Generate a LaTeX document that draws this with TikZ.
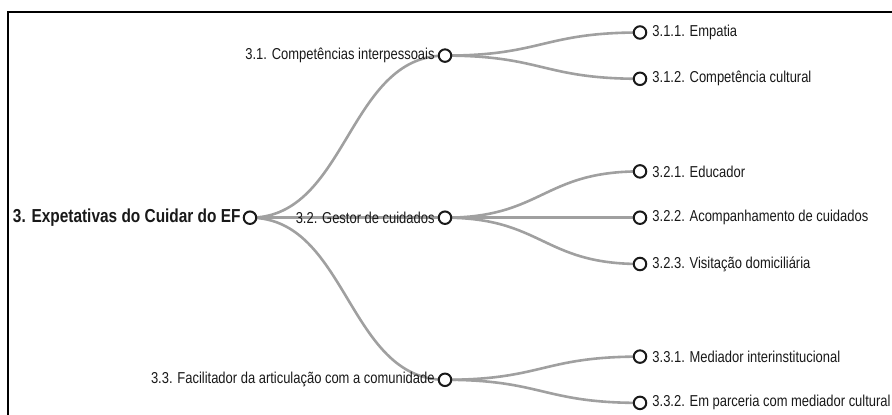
\documentclass[tikz,border=0pt]{standalone}
\usepackage{fontspec}
\setmainfont{Liberation Sans}[FakeStretch=0.82]
\usetikzlibrary{positioning}
\usetikzlibrary{backgrounds}
\definecolor{mgray}{RGB}{160, 160, 160}
\definecolor{mdark}{RGB}{25, 25, 25}
\tikzset{knot/.style = {draw=mdark, fill=white, circle, line width=2, inner sep=0, minimum size=12.5}}
\tikzset{lbl/.style = {inner sep=0, text=mdark, font=\fontsize{15.8}{18}\selectfont}}
\tikzset{link/.style = {draw=mgray, line width=2.6}}

\begin{document}
\begin{tikzpicture}[x=1pt, y=-1pt]
    \useasboundingbox (0, 0) rectangle (892, 415);
    \draw [black, line width=2] (8.3, 415) |- (892, 11.5);

    \node [knot] (n3) at (250, 217.7) {};
    \node [knot] (n31) at (445, 55.6) {};
    \node [knot] (n32) at (445, 217.7) {};
    \node [knot] (n33) at (445, 379.8) {};
    \node [knot] (n311) at (640, 32.5) {};
    \node [knot] (n312) at (640, 78.8) {};
    \node [knot] (n321) at (640, 171.4) {};
    \node [knot] (n322) at (640, 217.7) {};
    \node [knot] (n323) at (640, 264) {};
    \node [knot] (n331) at (640, 356.6) {};
    \node [knot] (n332) at (640, 402.9) {};

    \node [lbl, font=\fontsize{18.8}{21}\selectfont\bfseries, left=2 of n3] {3. Expetativas do Cuidar do EF};
    \node [lbl, left=3 of n31] {3.1. Competências interpessoais};
    \node [lbl, left=3 of n32] {3.2. Gestor de cuidados};
    \node [lbl, left=3 of n33] {3.3. Facilitador da articulação com a comunidade};
    \node [lbl, right=5 of n311] {3.1.1. Empatia};
    \node [lbl, right=5 of n312] {3.1.2. Competência cultural};
    \node [lbl, right=5 of n321] {3.2.1. Educador};
    \node [lbl, right=5 of n322] {3.2.2. Acompanhamento de cuidados};
    \node [lbl, right=5 of n323] {3.2.3. Visitação domiciliária};
    \node [lbl, right=5 of n331] {3.3.1. Mediador interinstitucional};
    \node [lbl, right=5 of n332] {3.3.2. Em parceria com mediador cultural};

    \begin{scope}[on background layer]
      \draw [link] (n3.center) .. controls +(97.5, 0) and +(-97.5, 0) .. (n31.center);
      \draw [link] (n3.center) .. controls +(97.5, 0) and +(-97.5, 0) .. (n32.center);
      \draw [link] (n3.center) .. controls +(97.5, 0) and +(-97.5, 0) .. (n33.center);
      \draw [link] (n31.center) .. controls +(97.5, 0) and +(-97.5, 0) .. (n311.center);
      \draw [link] (n31.center) .. controls +(97.5, 0) and +(-97.5, 0) .. (n312.center);
      \draw [link] (n32.center) .. controls +(97.5, 0) and +(-97.5, 0) .. (n321.center);
      \draw [link] (n32.center) .. controls +(97.5, 0) and +(-97.5, 0) .. (n322.center);
      \draw [link] (n32.center) .. controls +(97.5, 0) and +(-97.5, 0) .. (n323.center);
      \draw [link] (n33.center) .. controls +(97.5, 0) and +(-97.5, 0) .. (n331.center);
      \draw [link] (n33.center) .. controls +(97.5, 0) and +(-97.5, 0) .. (n332.center);
    \end{scope}
\end{tikzpicture}
\end{document}
